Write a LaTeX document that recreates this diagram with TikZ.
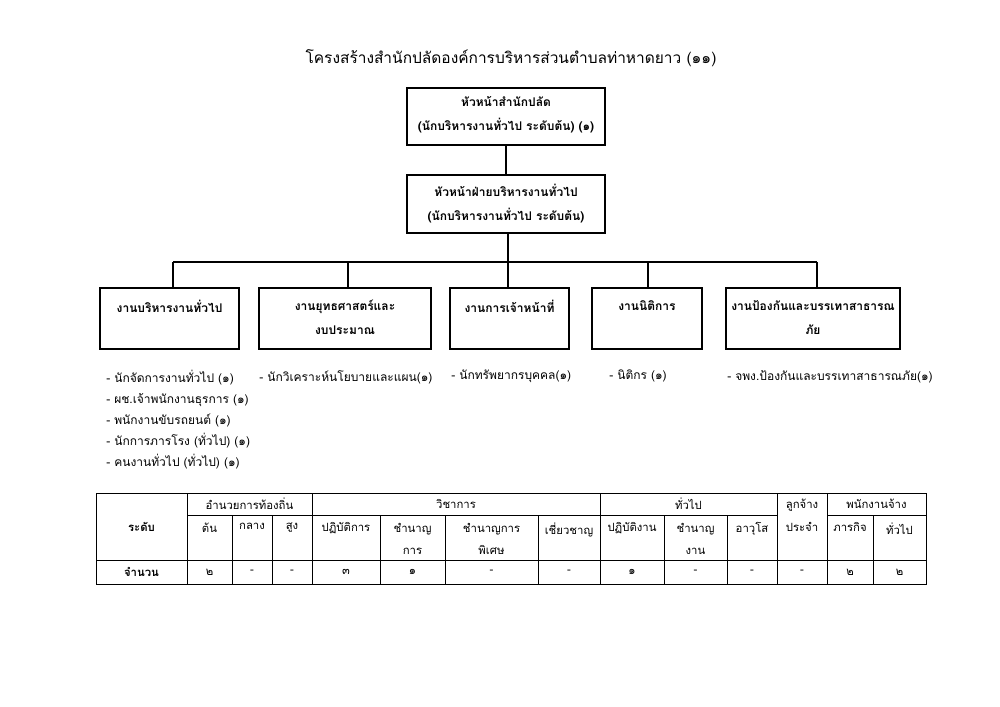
\documentclass[tikz,border=0pt]{standalone}
\usepackage{fontspec}
\setmainfont[Script=Thai]{Loma}
\begin{document}
\begin{tikzpicture}[x=0.75pt,y=-0.75pt,
  box/.style={draw,line width=1pt,inner sep=0pt},
  btxt/.style={font=\fontsize{9}{18}\selectfont\bfseries,align=center,inner sep=0pt,anchor=north},
  ltxt/.style={font=\fontsize{9}{15.75}\selectfont,align=left,inner sep=0pt,anchor=north west},
  conn/.style={line width=1pt},
  tcell/.style={font=\fontsize{8.5}{17}\selectfont,align=center,inner sep=0pt},
  thin/.style={line width=0.4pt},
  thick/.style={line width=0.75pt}]
\useasboundingbox (0,0) rectangle (1000,707);
\fill[white] (0,0) rectangle (1000,707);
% title
\node[font=\fontsize{11.6}{14}\selectfont,inner sep=0pt] (title) at (511,58) {โครงสร้างสำนักปลัดองค์การบริหารส่วนตำบลท่าหาดยาว (๑๑)};
% top boxes
\node[box,minimum width=198*0.75pt,minimum height=57*0.75pt] (b1) at (506,116.5) {};
\node[btxt] at ([yshift=-7pt]b1.north) {หัวหน้าสำนักปลัด\\(นักบริหารงานทั่วไป ระดับต้น) (๑)};
\node[box,minimum width=198*0.75pt,minimum height=58*0.75pt] (b2) at (506,204) {};
\node[btxt] at ([yshift=-7pt]b2.north) {หัวหน้าฝ่ายบริหารงานทั่วไป\\(นักบริหารงานทั่วไป ระดับต้น)};
\draw[conn] (b1.south) -- (b2.north);
% second level boxes
\node[box,minimum width=139*0.75pt,minimum height=61*0.75pt] (ga) at (169.5,318.5) {};
\node[box,minimum width=172*0.75pt,minimum height=61*0.75pt] (gb) at (345,318.5) {};
\node[box,minimum width=119*0.75pt,minimum height=61*0.75pt] (gc) at (509.5,318.5) {};
\node[box,minimum width=110*0.75pt,minimum height=61*0.75pt] (gd) at (647,318.5) {};
\node[box,minimum width=174*0.75pt,minimum height=61*0.75pt] (ge) at (813,318.5) {};
\node[btxt] at ([yshift=-9.5pt]ga.north) {งานบริหารงานทั่วไป};
\node[btxt] at ([yshift=-9.5pt]gb.north) {งานยุทธศาสตร์และ\\งบประมาณ};
\node[btxt] at ([yshift=-9.5pt]gc.north) {งานการเจ้าหน้าที่};
\node[btxt] at ([yshift=-9.5pt]gd.north) {งานนิติการ};
\node[btxt] at ([yshift=-9.5pt]ge.north) {งานป้องกันและบรรเทาสาธารณ\\ภัย};
% connectors
\coordinate (j1) at (173,262);
\coordinate (j2) at (348,262);
\coordinate (j3) at (508,262);
\coordinate (j4) at (648,262);
\coordinate (j5) at (817,262);
\draw[conn] (b2.south -| j3) -- (j3);
\draw[conn] (j1) -- (j5);
\draw[conn] (j1) -- (j1 |- ga.north);
\draw[conn] (j2) -- (j2 |- gb.north);
\draw[conn] (j3) -- (j3 |- gc.north);
\draw[conn] (j4) -- (j4 |- gd.north);
\draw[conn] (j5) -- (j5 |- ge.north);
% lists
\node[ltxt] (la) at (106,370) {- นักจัดการงานทั่วไป (๑)\\- ผช.เจ้าพนักงานธุรการ (๑)\\- พนักงานขับรถยนต์ (๑)\\- นักการภารโรง (ทั่วไป) (๑)\\- คนงานทั่วไป (ทั่วไป) (๑)};
\node[ltxt] (lb) at (259,370) {- นักวิเคราะห์นโยบายและแผน(๑)};
\node[ltxt] (lc) at (451,370) {- นักทรัพยากรบุคคล(๑)};
\node[ltxt] (ld) at (609,370) {- นิติกร (๑)};
\node[ltxt] (le) at (727,370) {- จพง.ป้องกันและบรรเทาสาธารณภัย(๑)};
% table lines
\draw[thick] (96,493) rectangle (926,584);
\draw[thin] (96,560) -- (926,560);
\draw[thin] (187,515) -- (777,515);
\draw[thin] (827,515) -- (926,515);
\draw[thick] (187,493) -- (187,584);
\draw[thick] (312,493) -- (312,584);
\draw[thick] (600,493) -- (600,584);
\draw[thick] (777,493) -- (777,584);
\draw[thick] (827,493) -- (827,584);
\foreach \x in {232,272,380,445,538,664,727,873}{\draw[thin] (\x,515) -- (\x,584);}
% table text
\node[tcell,font=\fontsize{8.5}{17}\selectfont\bfseries] (tr) at (141.5,527) {ระดับ};
\node[tcell] (h1) at (249.5,504) {อำนวยการท้องถิ่น};
\node[tcell] (h2) at (456,504) {วิชาการ};
\node[tcell] (h3) at (688.5,504) {ทั่วไป};
\node[tcell] (h4) at (802,515) {ลูกจ้าง\\ประจำ};
\node[tcell] (h5) at (876.5,504) {พนักงานจ้าง};
\node[tcell,anchor=north] at (209.5,522.5) {ต้น};
\node[tcell,anchor=north] at (252,522.5) {กลาง};
\node[tcell,anchor=north] at (292,522.5) {สูง};
\node[tcell,anchor=north] at (346,522.5) {ปฏิบัติการ};
\node[tcell,anchor=north] at (412.5,522.5) {ชำนาญ\\การ};
\node[tcell,anchor=north] at (491.5,522.5) {ชำนาญการ\\พิเศษ};
\node[tcell,anchor=north] at (569,522.5) {เชี่ยวชาญ};
\node[tcell,anchor=north] at (632,522.5) {ปฏิบัติงาน};
\node[tcell,anchor=north] at (695.5,522.5) {ชำนาญ\\งาน};
\node[tcell,anchor=north] at (752,522.5) {อาวุโส};
\node[tcell,anchor=north] at (850,522.5) {ภารกิจ};
\node[tcell,anchor=north] at (899.5,522.5) {ทั่วไป};
\node[tcell,font=\fontsize{8.5}{17}\selectfont\bfseries] at (141.5,572) {จำนวน};
\foreach \x/\t in {209.5/๒,252/-,292/-,346/๓,412.5/๑,491.5/-,569/-,632/๑,695.5/-,752/-,802/-,850/๒,899.5/๒}{\node[tcell] at (\x,572) {\t};}
\end{tikzpicture}
\end{document}
